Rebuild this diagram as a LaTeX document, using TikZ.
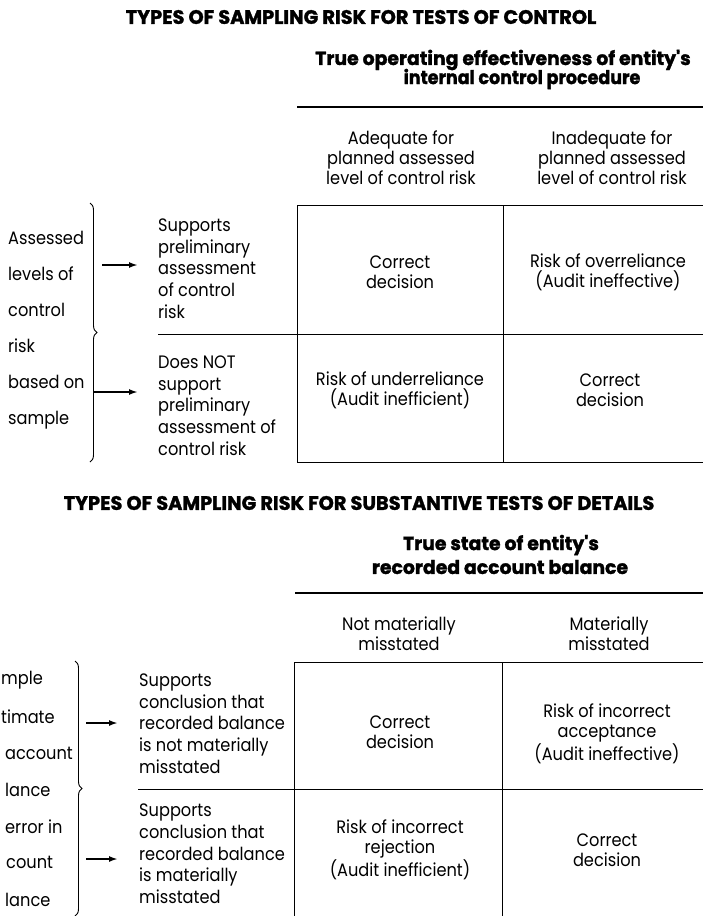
\documentclass[tikz,border=0pt]{standalone}
\usepackage{fontspec}
\setmainfont{Poppins}[FakeStretch=0.9]
\newfontfamily\headfont{Poppins}[FakeStretch=0.99, BoldFeatures={FakeBold=1.5}]
\newfontfamily\headnarrow{Poppins}[FakeStretch=0.92, BoldFeatures={FakeBold=1.5}]
\usetikzlibrary{arrows.meta,decorations.pathreplacing}

\begin{document}
\begin{tikzpicture}[x=1pt,y=-1pt,
  body/.style={font=\fontsize{18}{20}\selectfont, inner sep=0pt, align=center},
  rowlab/.style={font=\fontsize{18}{21.7}\selectfont, inner sep=0pt, align=left, anchor=west},
  sidelab/.style={font=\fontsize{18}{36}\selectfont, inner sep=0pt, align=left, anchor=west},
  frag/.style={font=\fontsize{18}{20}\selectfont, inner sep=0pt, anchor=west},
  title/.style={font=\headfont\fontsize{19.5}{22}\selectfont\bfseries, inner sep=0pt},
  subtitle/.style={font=\headfont\fontsize{19}{20}\selectfont\bfseries, inner sep=0pt},
  subnarrow/.style={font=\headnarrow\fontsize{19}{20}\selectfont\bfseries, inner sep=0pt},
  rule/.style={line width=1.2pt},
  gridline/.style={line width=1pt},
  arr/.style={line width=1.8pt,-{Latex[length=9pt,width=6pt]}},
  bracket/.style={line width=0.9pt, decorate, decoration={brace, amplitude=7pt}}
]
\useasboundingbox (0,0) rectangle (703,916);

% ---------------- tests of control ----------------
\node[title] (t1) at (361,17) {TYPES OF SAMPLING RISK FOR TESTS OF CONTROL};
\node[subtitle] (s1a) at (503,60) {True operating effectiveness of entity's};
\node[subnarrow] (s1b) at (522,79) {internal control procedure};
\coordinate (h1l) at (297,107);
\coordinate (h1r) at (703,107);
\draw[rule] (h1l) -- (h1r);

\node[body] (c1) at (401,158) {Adequate for\\planned assessed\\level of control risk};
\node[body] (c2) at (612,158) {Inadequate for\\planned assessed\\level of control risk};

\coordinate (g1tl) at (297,205);
\coordinate (g1tr) at (703,205);
\coordinate (g1bl) at (297,462);
\coordinate (g1br) at (703,462);
\coordinate (g1ml) at (158,334);
\coordinate (g1mr) at (703,334);
\coordinate (g1vt) at (503,205);
\coordinate (g1vb) at (503,462);
\draw[gridline] (g1tl) -- (g1tr);
\draw[gridline] (g1tl) -- (g1bl);
\draw[gridline] (g1bl) -- (g1br);
\draw[gridline] (g1ml) -- (g1mr);
\draw[gridline] (g1vt) -- (g1vb);

\node[body] (k11) at (400,272) {Correct\\decision};
\node[body] (k12) at (608,272) {Risk of overreliance\\(Audit ineffective)};
\node[body] (k21) at (400,390) {Risk of underreliance\\(Audit inefficient)};
\node[body] (k22) at (610,390) {Correct\\decision};

\node[rowlab] (r1) at (158,268.5) {Supports\\preliminary\\assessment\\of control\\risk};
\node[rowlab] (r2) at (158,405.5) {Does NOT\\support\\preliminary\\assessment of\\control risk};

\node[sidelab] (lab1) at (8,330) {Assessed\\levels of\\control\\risk\\based on\\sample};
\coordinate (b1t) at (90,203);
\coordinate (b1b) at (90,462);
\draw[bracket] (b1t) -- (b1b);

\coordinate (a1s) at (102,265);
\coordinate (a1e) at (138,265);
\coordinate (a2s) at (93,392);
\coordinate (a2e) at (138,392);
\draw[arr] (a1s) -- (a1e);
\draw[arr] (a2s) -- (a2e);

% ---------------- substantive tests of details ----------------
\node[title] (t2) at (359,503) {TYPES OF SAMPLING RISK FOR SUBSTANTIVE TESTS OF DETAILS};
\node[subtitle] (s2a) at (501,545) {True state of entity's};
\node[subtitle] (s2b) at (500,567) {recorded account balance};
\coordinate (h2l) at (295,593);
\coordinate (h2r) at (703,593);
\draw[rule] (h2l) -- (h2r);

\node[body] (d1) at (399,634) {Not materially\\misstated};
\node[body] (d2) at (609,634) {Materially\\misstated};

\coordinate (g2tl) at (294,662);
\coordinate (g2tr) at (703,662);
\coordinate (g2bl) at (294,916);
\coordinate (g2ml) at (138,789);
\coordinate (g2mr) at (703,789);
\coordinate (g2vt) at (502,662);
\coordinate (g2vb) at (502,916);
\draw[gridline] (g2tl) -- (g2tr);
\draw[gridline] (g2tl) -- (g2bl);
\draw[gridline] (g2ml) -- (g2mr);
\draw[gridline] (g2vt) -- (g2vb);

\node[body] (m11) at (400,732) {Correct\\decision};
\node[body] (m12) at (607,734) {Risk of incorrect\\acceptance\\(Audit ineffective)};
\node[body] (m21) at (400,850) {Risk of incorrect\\rejection\\(Audit inefficient)};
\node[body] (m22) at (607,850) {Correct\\decision};

\node[rowlab] (q1) at (139,723.5) {Supports\\conclusion that\\recorded balance\\is not materially\\misstated};
\node[rowlab] (q2) at (139,854) {Supports\\conclusion that\\recorded balance\\is materially\\misstated};

% side labels running in from the left margin
\node[frag] (f1) at (1,680) {mple};
\node[frag] (f2) at (1,717) {timate};
\node[frag] (f3) at (5,753) {account};
\node[frag] (f4) at (5,790) {lance};
\node[frag] (f5) at (5,827) {error in};
\node[frag] (f6) at (6,862) {count};
\node[frag] (f7) at (5,900) {lance};

\coordinate (b2t) at (75,661);
\coordinate (b2b) at (75,916);
\draw[bracket] (b2t) -- (b2b);

\coordinate (a3s) at (86,723);
\coordinate (a3e) at (118,723);
\coordinate (a4s) at (86,859);
\coordinate (a4e) at (118,859);
\draw[arr] (a3s) -- (a3e);
\draw[arr] (a4s) -- (a4e);
\end{tikzpicture}
\end{document}
